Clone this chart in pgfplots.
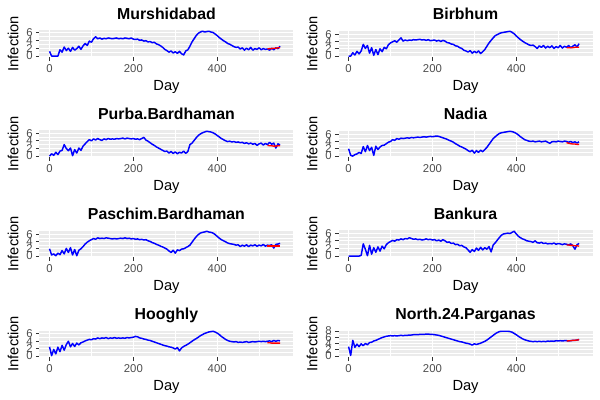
\documentclass[border=0pt]{standalone}
\usepackage{pgfplots}
\pgfplotsset{compat=1.18}
\usepackage{pgfplotstable}
\usepackage{fontspec}
\setmainfont{Liberation Sans}
\definecolor{panelgray}{HTML}{EBEBEB}
\definecolor{tickgray}{HTML}{4D4D4D}
\definecolor{tickmark}{HTML}{333333}

\pgfplotstableread{
day mur bir pur nad pas ban hoo nor
0 1.2 0 0 2.0 2.0 0 2.5 3.0
5 0 0 0.6 0.2 0.3 0 0.1 0.2
10 0 0.9 0.2 0 0.6 0 1.8 5.0
15 0 0.3 1.0 0.4 0.1 0 0.6 2.8
20 0 1.3 0.4 0.6 0.8 0 2.4 3.8
25 1.6 0.6 1.3 1.0 0.4 0 1.2 3.0
30 1.0 1.4 1.5 0.7 1.5 0.2 2.9 3.9
35 2.3 3.2 3.0 2.6 0.6 3.2 1.6 3.3
40 1.4 2.1 2.0 1.2 2.1 1.8 3.1 4.0
45 2.0 2.9 1.4 2.9 1.0 0.1 4.0 3.6
50 1.2 0.8 2.1 1.5 2.3 2.8 2.5 4.3
55 2.2 2.3 0.1 2.4 0.3 0.5 3.4 4.4
60 1.5 0.2 1.7 0.2 1.8 2.2 2.6 4.8
65 1.9 1.8 0.8 2.7 0.1 1.0 3.5 5.0
70 2.5 0.4 2.1 1.8 1.6 2.4 3.0 5.3
75 1.7 2.0 1.5 2.5 2.0 1.3 3.6 5.6
80 2.6 1.2 2.6 2.9 2.6 2.6 3.8 5.9
85 3.2 2.4 3.2 3.0 3.3 1.9 4.1 6.1
90 2.7 2.0 3.8 3.4 3.8 3.0 4.3 6.3
95 3.8 3.1 4.3 3.8 4.2 3.5 4.5 6.4
100 3.5 3.6 4.0 4.0 4.5 3.8 4.4 6.5
105 4.4 3.9 4.5 4.5 4.8 4.1 4.7 6.4
110 4.9 4.2 4.2 4.3 4.6 3.9 4.6 6.5
115 4.4 3.8 4.6 4.8 5.0 4.3 4.9 6.4
120 4.6 4.4 4.3 4.6 4.8 4.2 4.7 6.5
125 4.3 5.0 4.1 4.9 4.9 4.5 4.9 6.6
130 4.5 4.1 4.5 4.8 4.8 4.3 4.8 6.5
135 4.4 4.4 4.3 4.9 5.0 4.6 5.0 6.6
140 4.6 4.2 4.6 5.0 4.9 4.5 4.7 6.6
145 4.5 4.4 4.4 4.9 4.8 4.8 4.9 6.7
150 4.4 4.3 4.5 5.1 4.7 4.6 4.8 6.7
155 4.5 4.5 4.4 5.0 4.8 4.4 5.0 6.8
160 4.6 4.4 4.6 5.1 4.7 4.5 4.8 6.8
165 4.4 4.5 4.5 5.2 4.8 4.3 4.9 6.8
170 4.5 4.6 4.6 5.1 4.9 4.4 4.8 6.9
175 4.4 4.4 4.7 5.2 4.8 4.2 4.9 6.9
180 4.6 4.5 4.5 5.3 5.0 4.3 4.8 6.9
185 4.5 4.3 4.7 5.2 4.8 4.5 5.0 7.0
190 4.4 4.5 4.6 5.3 4.9 4.3 4.9 7.0
195 4.6 4.2 4.5 5.4 4.7 4.4 5.0 6.9
200 4.3 4.3 4.6 5.3 4.8 4.2 5.1 6.9
205 4.2 4.4 4.4 5.4 4.6 4.3 5.3 6.8
210 4.3 4.1 4.5 5.5 4.7 4.0 5.2 6.7
215 4.0 4.3 4.3 5.4 4.5 4.2 4.9 6.6
220 4.1 4.0 4.6 5.2 4.6 3.9 4.8 6.4
225 3.8 4.3 4.9 5.0 4.4 4.3 4.6 6.2
230 3.9 4.1 4.2 4.8 4.5 4.0 4.5 6.0
235 3.6 3.7 3.9 4.6 4.2 3.6 4.3 5.8
240 3.7 3.6 3.5 4.3 4.0 3.7 4.2 5.6
245 3.4 3.3 3.1 4.1 3.7 3.3 4.0 5.4
250 3.5 3.2 2.8 3.8 3.5 3.4 3.8 5.2
255 3.1 2.8 2.4 3.4 3.2 3.0 3.6 5.0
260 2.9 2.7 2.1 3.1 3.0 3.1 3.4 4.8
265 2.6 2.3 1.8 2.7 2.7 2.7 3.2 4.6
270 2.2 2.1 1.5 2.5 2.5 2.8 3.0 4.5
275 1.7 1.6 1.2 2.2 2.2 2.4 2.8 4.3
280 1.4 1.4 1.3 1.9 1.9 2.2 2.7 4.1
285 1.0 1.1 0.8 1.5 1.4 1.6 2.5 4.0
290 1.3 1.5 1.2 1.2 1.0 1.0 2.4 3.8
295 0.8 0.8 0.7 1.6 1.6 1.7 2.2 3.5
300 1.1 1.3 1.1 0.8 0.8 1.2 1.9 3.9
305 0.7 0.9 0.6 1.5 1.7 2.1 2.3 3.7
310 1.2 1.4 1.0 1.0 1.5 1.5 1.4 3.9
315 0.6 0.7 0.8 1.6 1.9 2.3 2.2 4.1
320 0.3 1.2 1.3 1.2 2.0 1.6 2.6 4.4
325 1.3 1.8 0.7 1.8 2.3 2.2 2.9 4.7
330 1.6 2.7 1.2 2.4 2.6 1.8 3.2 5.1
335 2.5 3.6 3.0 3.2 3.0 2.5 3.6 5.6
340 3.6 4.3 3.4 4.0 3.8 1.1 4.0 6.1
345 4.4 5.0 4.1 4.8 4.6 2.9 4.4 6.6
350 5.2 5.6 4.8 5.3 5.3 3.5 4.7 7.1
355 5.8 5.9 5.4 5.8 5.9 4.2 5.1 7.5
360 6.1 6.2 5.8 6.2 6.3 4.9 5.5 7.8
365 6.3 6.4 6.1 6.4 6.5 5.5 5.8 7.9
370 6.1 6.5 6.3 6.5 6.6 5.8 6.1 7.9
375 6.2 6.6 6.5 6.6 6.8 5.9 6.3 7.9
380 6.3 6.7 6.4 6.7 6.6 6.0 6.5 7.9
385 6.1 6.8 6.3 6.8 6.5 5.9 6.6 7.8
390 6.0 6.5 6.1 6.7 6.3 6.2 6.7 7.6
395 5.6 6.1 5.8 6.5 5.9 6.5 6.5 7.2
400 5.2 5.5 5.4 6.2 5.4 5.8 6.2 6.8
405 4.7 5.0 5.0 5.8 4.9 5.2 5.8 6.3
410 4.3 4.5 4.6 5.3 4.5 4.8 5.3 5.9
415 3.9 4.1 4.3 4.9 4.2 4.5 4.9 5.5
420 3.6 3.7 4.0 4.5 3.9 4.3 4.5 5.2
425 3.2 3.4 3.8 4.3 3.6 4.0 4.2 5.0
430 3.0 3.1 3.9 4.1 3.4 3.9 4.0 4.8
435 2.7 2.9 3.7 4.0 3.3 3.8 3.9 4.7
440 2.4 3.0 3.8 4.1 3.2 3.6 3.8 4.6
445 2.2 2.6 3.6 3.9 3.0 4.0 3.9 4.7
450 2.3 2.1 3.7 4.0 3.1 3.5 3.7 4.6
455 1.8 2.8 3.5 4.1 2.6 3.4 3.8 4.7
460 2.1 2.4 3.6 3.9 3.0 3.6 3.7 4.6
465 1.5 2.9 3.3 4.0 2.7 3.3 3.8 4.7
470 2.0 2.2 3.5 4.1 3.1 3.4 3.9 4.6
475 1.6 2.7 3.2 3.8 2.6 3.2 3.7 4.8
480 2.2 2.3 3.4 3.5 3.0 3.3 3.8 4.7
485 1.5 2.8 3.1 3.9 2.8 3.2 3.9 4.8
490 1.9 2.1 3.3 4.0 3.1 3.4 3.8 4.7
495 1.7 2.6 2.8 3.9 2.7 3.1 3.9 4.9
500 2.1 2.3 3.2 4.1 3.0 3.3 4.0 4.8
505 1.6 2.9 3.4 4.0 2.8 3.2 3.9 4.9
510 1.9 2.2 2.9 3.9 3.2 3.0 4.0 4.8
515 1.7 2.7 3.3 4.1 2.7 3.2 3.9 4.9
520 1.8 2.4 3.0 4.0 3.0 3.1 4.0 4.9
525 1.5 2.9 3.6 3.8 2.9 2.9 4.1 4.8
530 2.0 2.3 3.1 4.0 3.1 3.2 3.9 4.9
535 1.6 2.7 3.4 3.7 2.2 2.7 4.2 5.0
540 2.1 3.1 2.1 3.9 3.2 1.8 4.0 5.0
545 1.9 2.5 3.2 3.6 3.3 3.0 4.2 5.1
550 2.5 3.4 2.9 3.9 3.5 3.3 4.1 5.3
}\maindata

\pgfplotstableread{
day mur bir pur nad pas ban hoo nor
520 1.8 2.3 2.8 3.7 2.8 2.9 3.6 4.8
525 1.9 2.3 2.7 3.5 2.8 2.9 3.6 4.85
530 1.9 2.3 2.7 3.4 2.8 2.8 3.5 4.9
535 2.0 2.3 2.6 3.3 2.8 2.8 3.5 5.0
540 2.0 2.4 2.6 3.3 2.8 2.7 3.5 5.05
545 2.1 2.4 2.7 3.2 2.8 2.7 3.5 5.1
550 2.1 2.4 2.7 3.2 2.8 2.6 3.5 5.2
}\preddata

\pgfplotsset{
  every axis title/.style={at={(axis description cs:0.5,1.366)}, anchor=base, inner sep=0pt,
    font=\bfseries\fontsize{11.9}{12}\selectfont},
  facet/.style={
    scale only axis, width=190.5pt, height=20.5pt,
    anchor=north west,
    xmin=-24, xmax=582,
    axis background/.style={fill=panelgray},
    axis line style={draw=none},
    xtick={0,200,400}, minor xtick={100,300,500},
    ytick={0,2,4,6,8}, minor ytick={1,3,5,7},
    grid=both,
    major grid style={white, line width=0.8pt},
    minor grid style={white, line width=0.4pt},
    tick align=outside, major tick length=2.75pt, minor tick length=0pt,
    tick style={tickmark, line width=0.6pt},
    tick pos=left,
    /pgf/number format/assume math mode=true,
    tick label style={font=\fontsize{8.5}{8.5}\selectfont, text=tickgray, inner sep=0pt},
    xticklabel style={anchor=north, yshift=-2.2pt},
    yticklabel style={anchor=east, xshift=-2.2pt},
    xlabel={Day}, ylabel={Infection},
    label style={font=\fontsize{11}{11}\selectfont, inner sep=0pt},
    xlabel style={at={(axis description cs:0.5,-1.22)}, anchor=base},
    ylabel style={at={(axis description cs:-0.0835,0.5)}, anchor=base},
    clip=true,
  },
  blueline/.style={draw={rgb,255:red,0;green,0;blue,255}, line width=1.1pt, line join=round},
  redline/.style={draw={rgb,255:red,255;green,0;blue,0}, line width=1.0pt},
}

\newcommand{\facet}[6]{%
  \begin{axis}[facet, at={(#1,#2)}, title={#3}, ymin=#5, ymax=#6]
    \addplot[blueline] table[x=day, y=#4] {\maindata};
    \addplot[redline] table[x=day, y=#4] {\preddata};
  \end{axis}%
}

\begin{document}
\begin{tikzpicture}
\useasboundingbox (0,0) rectangle (450pt,300pt);
\facet{29.6pt}{277.5pt}{Murshidabad}{mur}{-0.315}{6.615}
\facet{253.9pt}{277.5pt}{Birbhum}{bir}{-0.34}{7.14}
\facet{29.6pt}{202.5pt}{Purba.Bardhaman}{pur}{-0.325}{6.825}
\facet{253.9pt}{202.5pt}{Nadia}{nad}{-0.34}{7.14}
\facet{29.6pt}{127.5pt}{Paschim.Bardhaman}{pas}{-0.34}{7.14}
\facet{253.9pt}{127.5pt}{Bankura}{ban}{-0.325}{6.825}
\facet{29.6pt}{52.5pt}{Hooghly}{hoo}{-0.335}{7.035}
\facet{253.9pt}{52.5pt}{North.24.Parganas}{nor}{-0.395}{8.295}
\end{tikzpicture}
\end{document}
